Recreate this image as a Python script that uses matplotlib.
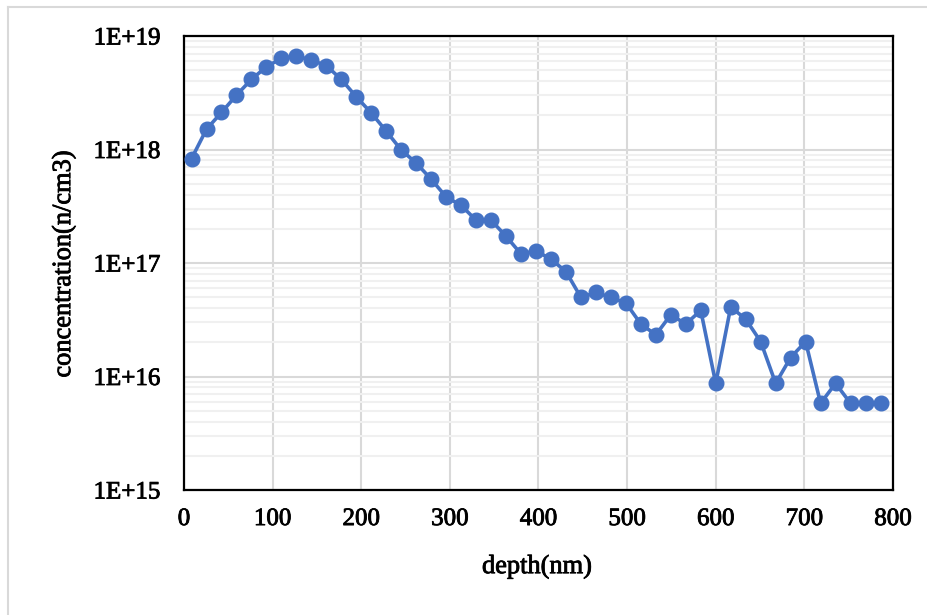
import matplotlib
matplotlib.use("Agg")
import matplotlib.pyplot as plt
import matplotlib.patheffects as pe
from matplotlib.lines import Line2D
from matplotlib.ticker import LogLocator, FixedLocator, NullFormatter

plt.rcParams['font.family'] = ['Liberation Serif', 'DejaVu Serif']

depth = [8.5, 25.4, 42.3, 59.2, 76.1, 93.0, 109.9, 126.8, 143.7, 160.6,
         177.5, 194.4, 211.3, 228.2, 245.1, 262.0, 278.9, 295.8, 312.7, 329.6,
         346.5, 363.4, 380.3, 397.2, 414.1, 431.0, 447.9, 464.8, 481.7, 498.6,
         515.5, 532.4, 549.3, 566.2, 583.1, 600.0, 616.9, 633.8, 650.7, 667.6,
         684.5, 701.4, 718.3, 735.2, 752.1, 769.0, 785.9]
concentration = [8.3e17, 1.51e18, 2.12e18, 3.01e18, 4.15e18, 5.36e18, 6.35e18, 6.65e18, 6.14e18, 5.47e18,
                 4.15e18, 2.91e18, 2.1e18, 1.45e18, 9.9e17, 7.6e17, 5.47e17, 3.82e17, 3.22e17, 2.38e17,
                 2.38e17, 1.72e17, 1.2e17, 1.28e17, 1.08e17, 8.4e16, 4.97e16, 5.5e16, 4.97e16, 4.44e16,
                 2.9e16, 2.33e16, 3.5e16, 2.9e16, 3.82e16, 8.7e15, 4.1e16, 3.2e16, 2.03e16, 8.7e15,
                 1.47e16, 2.03e16, 5.8e15, 8.7e15, 5.8e15, 5.8e15, 5.8e15]

x_ticks = [0, 100, 200, 300, 400, 500, 600, 700, 800]
y_ticks = [1e15, 1e16, 1e17, 1e18, 1e19]
y_tick_labels = ["1E+15", "1E+16", "1E+17", "1E+18", "1E+19"]

fig = plt.figure(figsize=(9.28, 6.15), dpi=100)
ax = fig.add_axes([184/928, 1-490/615, (893-184)/928, (490-36)/615])

ax.set_yscale('log')
ax.set_xlim(0, 800)
ax.set_ylim(1e15, 1e19)

ax.plot(depth, concentration, color='#4472C4', lw=2.6, marker='o',
        markersize=10.5, markerfacecolor='#4472C4', markeredgecolor='#4472C4', zorder=3)

ax.xaxis.set_major_locator(FixedLocator(x_ticks))
ax.yaxis.set_major_locator(FixedLocator(y_ticks))
ax.set_yticklabels(y_tick_labels)
ax.yaxis.set_minor_locator(LogLocator(base=10, subs=range(2, 10), numticks=20))
ax.yaxis.set_minor_formatter(NullFormatter())

ax.grid(True, which='major', color='#d9d9d9', lw=1.5, zorder=0)
ax.grid(True, which='minor', axis='y', color='#f0f0f0', lw=1.5, zorder=0)
ax.set_axisbelow(True)

ax.tick_params(axis='both', which='both', length=0)
ax.tick_params(axis='y', labelsize=18, pad=17)
ax.tick_params(axis='x', labelsize=18, pad=13)

thick = [pe.withStroke(linewidth=0.6, foreground='black')]
for lab in ax.get_xticklabels() + ax.get_yticklabels():
    lab.set_path_effects(thick)

for s in ax.spines.values():
    s.set_color('black')
    s.set_linewidth(1.6)

fig.text(537/928, 1-567/615, 'depth(nm)', ha='center', va='center', fontsize=19,
         path_effects=thick)
fig.text(64/928, 1-264/615, 'concentration(n/cm3)', ha='center', va='center',
         rotation=90, fontsize=19, path_effects=thick)

# chart-area border (top and left visible)
fig.add_artist(Line2D([8/928, 1.0], [1-7/615, 1-7/615], transform=fig.transFigure,
                      color='#d9d9d9', lw=1.5))
fig.add_artist(Line2D([8/928, 8/928], [0, 1-7/615], transform=fig.transFigure,
                      color='#d9d9d9', lw=1.5))

fig.savefig('out.png', dpi=100)
